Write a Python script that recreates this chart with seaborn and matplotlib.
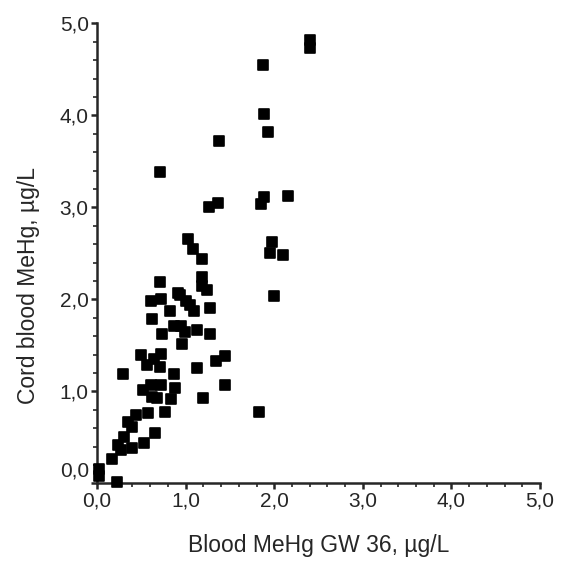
import seaborn as sns
import pandas as pd
import matplotlib.pyplot as plt
from matplotlib.ticker import MultipleLocator, FuncFormatter

# blood MeHg at GW 36 (x) and cord blood MeHg (y), ug/L
blood_gw36 = [0.02, 0.02, 0.23, 0.17, 0.24, 0.27, 0.31, 0.39, 0.35, 0.40,
              0.44, 0.53, 0.66, 0.57, 0.77, 0.29, 0.52, 0.61, 0.72, 0.88,
              0.62, 0.68, 0.84, 1.20, 1.44, 0.87, 0.71, 1.13, 1.34, 1.44,
              0.56, 0.64, 0.50, 0.72, 0.96, 0.73, 0.87, 0.95, 0.99, 1.13,
              1.27, 0.62, 0.82, 1.27, 1.00, 1.05, 1.09, 0.61, 0.72, 0.91,
              0.94, 0.71, 1.19, 1.24, 1.18, 1.18, 1.08, 1.03, 0.71, 1.26,
              1.36, 1.38, 1.85, 1.88, 2.16, 1.97, 1.95, 2.10, 2.00, 1.87,
              1.88, 1.93, 2.40, 2.40, 1.83]
cord_blood = [0.16, 0.08, 0.01, 0.27, 0.42, 0.36, 0.50, 0.39, 0.67, 0.61,
              0.74, 0.44, 0.55, 0.77, 0.78, 1.19, 1.02, 1.07, 1.07, 1.04,
              0.94, 0.93, 0.92, 0.93, 1.07, 1.19, 1.26, 1.25, 1.33, 1.39,
              1.29, 1.35, 1.40, 1.41, 1.51, 1.62, 1.71, 1.71, 1.65, 1.67,
              1.62, 1.79, 1.87, 1.91, 1.98, 1.94, 1.87, 1.98, 2.00, 2.07,
              2.05, 2.19, 2.15, 2.10, 2.24, 2.44, 2.55, 2.66, 3.38, 3.00,
              3.05, 3.72, 3.04, 3.11, 3.12, 2.62, 2.50, 2.48, 2.04, 4.55,
              4.01, 3.82, 4.82, 4.73, 0.78]

tab = pd.DataFrame({"x": blood_gw36, "y": cord_blood})

sns.set_style("ticks")
plt.rcParams['font.family'] = ['Liberation Sans', 'DejaVu Sans']

fig = plt.figure(figsize=(5.62, 5.77), dpi=100)
ax = fig.add_axes([0.1726, 0.1622, 0.7884, 0.7974])

sns.scatterplot(data=tab, x="x", y="y", marker="s", s=42, color="black",
                edgecolor="black", linewidth=1.2, ax=ax, clip_on=False, zorder=3)
for c in ax.collections:
    c.set_joinstyle("round")

ax.set_xlim(0, 5)
ax.set_ylim(0, 5)
ax.xaxis.set_major_locator(MultipleLocator(1))
ax.yaxis.set_major_locator(MultipleLocator(1))
ax.xaxis.set_minor_locator(MultipleLocator(0.2))
ax.yaxis.set_minor_locator(MultipleLocator(0.2))
ax.xaxis.set_major_formatter(FuncFormatter(lambda v, p: f"{v:.1f}".replace(".", ",")))
# the y "0,0" is drawn by hand a little higher, as in the original
ax.yaxis.set_major_formatter(FuncFormatter(lambda v, p: "" if abs(v) < 1e-9 else f"{v:.1f}".replace(".", ",")))
ax.text(-0.018, 0.14, "0,0", transform=ax.get_yaxis_transform(),
        ha="right", va="center", fontsize=15)

ax.tick_params(which="major", direction="out", length=4, width=1.8, labelsize=15, pad=2)
ax.tick_params(which="minor", direction="out", length=3, width=1.2)
for side in ["top", "right"]:
    ax.spines[side].set_visible(False)
for side in ["left", "bottom"]:
    ax.spines[side].set_linewidth(1.8)

ax.set_xlabel("Blood MeHg GW 36, µg/L", fontsize=16.5, va="center")
ax.set_ylabel("Cord blood MeHg, µg/L", fontsize=16.5, va="center")
ax.xaxis.set_label_coords(0.5, -0.134)
ax.yaxis.set_label_coords(-0.155, 0.43)

fig.savefig("out.png", dpi=100)
